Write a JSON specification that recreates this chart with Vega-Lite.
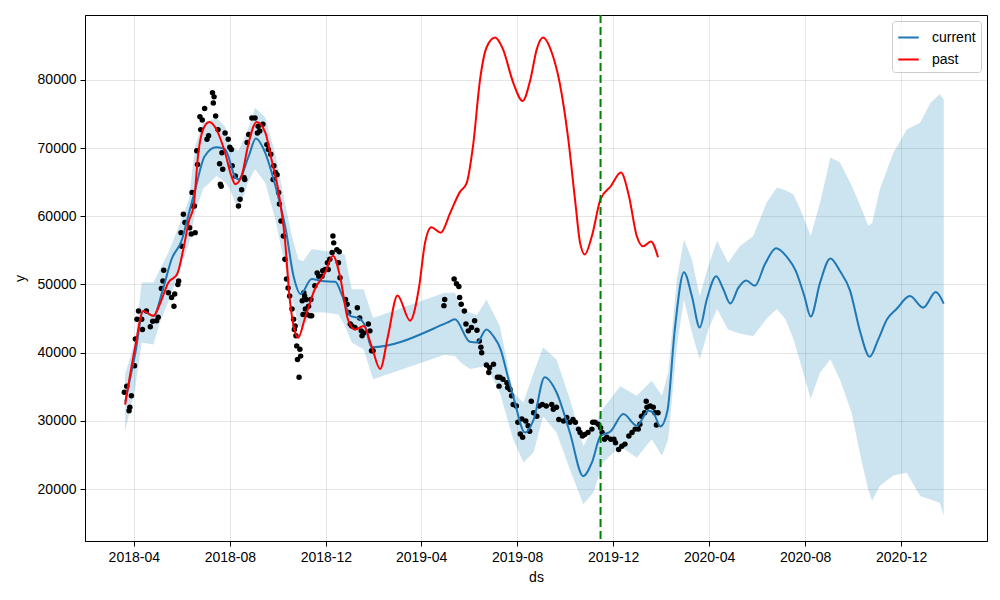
{
  "$schema": "https://vega.github.io/schema/vega-lite/v6.json",
  "description": "Prophet-style forecast: observed points, current fit with interval, past fit and a cutoff line.",
  "width": 902,
  "height": 526,
  "autosize": {"type": "none"},
  "padding": {"left": 85, "top": 15, "right": 13, "bottom": 59},
  "background": "white",
  "config": {
    "view": {"stroke": "black", "strokeWidth": 1},
    "axis": {
      "labelFont": "Liberation Sans",
      "titleFont": "Liberation Sans",
      "labelFontSize": 14,
      "titleFontSize": 14,
      "titleFontWeight": "normal",
      "labelColor": "black",
      "titleColor": "black",
      "domainColor": "black",
      "tickColor": "black",
      "tickSize": 5,
      "gridColor": "#808080",
      "gridOpacity": 0.2,
      "gridWidth": 1
    }
  },
  "datasets": {
    "band": [
      {"ds": "2018-03-21", "lower": 28500, "upper": 36800},
      {"ds": "2018-04-03", "lower": 35000, "upper": 42000},
      {"ds": "2018-04-11", "lower": 41500, "upper": 50300},
      {"ds": "2018-04-26", "lower": 41200, "upper": 50300},
      {"ds": "2018-05-04", "lower": 44400, "upper": 52200},
      {"ds": "2018-05-15", "lower": 47500, "upper": 54700},
      {"ds": "2018-05-28", "lower": 51700, "upper": 58500},
      {"ds": "2018-06-10", "lower": 56000, "upper": 62500},
      {"ds": "2018-06-18", "lower": 60500, "upper": 70300},
      {"ds": "2018-06-28", "lower": 64000, "upper": 73700},
      {"ds": "2018-07-15", "lower": 65900, "upper": 74400},
      {"ds": "2018-07-26", "lower": 65000, "upper": 73200},
      {"ds": "2018-08-01", "lower": 64000, "upper": 70300},
      {"ds": "2018-08-12", "lower": 60800, "upper": 69600},
      {"ds": "2018-08-24", "lower": 64900, "upper": 72700},
      {"ds": "2018-09-02", "lower": 66900, "upper": 75900},
      {"ds": "2018-09-15", "lower": 64900, "upper": 74500},
      {"ds": "2018-09-28", "lower": 59500, "upper": 69000},
      {"ds": "2018-10-10", "lower": 52700, "upper": 62000},
      {"ds": "2018-10-19", "lower": 48300, "upper": 57000},
      {"ds": "2018-10-27", "lower": 43900, "upper": 53700},
      {"ds": "2018-11-02", "lower": 43500, "upper": 53400},
      {"ds": "2018-11-13", "lower": 45900, "upper": 55200},
      {"ds": "2018-11-30", "lower": 45900, "upper": 54900},
      {"ds": "2018-12-17", "lower": 45600, "upper": 54600},
      {"ds": "2018-12-25", "lower": 44000, "upper": 54400},
      {"ds": "2019-01-03", "lower": 41500, "upper": 49300},
      {"ds": "2019-01-18", "lower": 40500, "upper": 49300},
      {"ds": "2019-01-30", "lower": 36100, "upper": 45100},
      {"ds": "2019-05-01", "lower": 39700, "upper": 48800},
      {"ds": "2019-05-14", "lower": 39500, "upper": 48800},
      {"ds": "2019-05-22", "lower": 38500, "upper": 46400},
      {"ds": "2019-06-02", "lower": 37600, "upper": 45900},
      {"ds": "2019-06-11", "lower": 37800, "upper": 45500},
      {"ds": "2019-06-23", "lower": 38100, "upper": 47800},
      {"ds": "2019-07-10", "lower": 34200, "upper": 43900},
      {"ds": "2019-07-27", "lower": 27300, "upper": 34200},
      {"ds": "2019-08-09", "lower": 23900, "upper": 32700},
      {"ds": "2019-08-22", "lower": 25400, "upper": 37100},
      {"ds": "2019-09-03", "lower": 30700, "upper": 40800},
      {"ds": "2019-09-20", "lower": 28300, "upper": 39000},
      {"ds": "2019-10-07", "lower": 22900, "upper": 33200},
      {"ds": "2019-10-24", "lower": 17800, "upper": 26300},
      {"ds": "2019-11-06", "lower": 19500, "upper": 29000},
      {"ds": "2019-11-18", "lower": 23900, "upper": 31800},
      {"ds": "2019-12-10", "lower": 26300, "upper": 35100},
      {"ds": "2019-12-31", "lower": 24600, "upper": 33700},
      {"ds": "2020-01-19", "lower": 27300, "upper": 35900},
      {"ds": "2020-02-01", "lower": 24900, "upper": 33700},
      {"ds": "2020-02-09", "lower": 27300, "upper": 37100},
      {"ds": "2020-02-20", "lower": 41000, "upper": 50800},
      {"ds": "2020-02-29", "lower": 47800, "upper": 56600},
      {"ds": "2020-03-10", "lower": 43000, "upper": 53700},
      {"ds": "2020-03-20", "lower": 39000, "upper": 48300},
      {"ds": "2020-03-31", "lower": 43400, "upper": 52700},
      {"ds": "2020-04-11", "lower": 46400, "upper": 56400},
      {"ds": "2020-04-25", "lower": 43400, "upper": 53200},
      {"ds": "2020-05-10", "lower": 42800, "upper": 55600},
      {"ds": "2020-05-27", "lower": 42400, "upper": 57100},
      {"ds": "2020-06-13", "lower": 45000, "upper": 62000},
      {"ds": "2020-06-26", "lower": 46400, "upper": 64200},
      {"ds": "2020-07-07", "lower": 44900, "upper": 63800},
      {"ds": "2020-07-17", "lower": 42000, "upper": 63200},
      {"ds": "2020-07-26", "lower": 38500, "upper": 61000},
      {"ds": "2020-08-08", "lower": 33200, "upper": 57100},
      {"ds": "2020-08-20", "lower": 37100, "upper": 62000},
      {"ds": "2020-09-02", "lower": 39000, "upper": 68600},
      {"ds": "2020-09-14", "lower": 36100, "upper": 67900},
      {"ds": "2020-09-29", "lower": 31200, "upper": 64500},
      {"ds": "2020-10-12", "lower": 23900, "upper": 61000},
      {"ds": "2020-10-20", "lower": 20000, "upper": 58600},
      {"ds": "2020-10-25", "lower": 18300, "upper": 59000},
      {"ds": "2020-11-04", "lower": 20500, "upper": 64000},
      {"ds": "2020-11-21", "lower": 22000, "upper": 69300},
      {"ds": "2020-12-08", "lower": 22400, "upper": 72700},
      {"ds": "2020-12-25", "lower": 19000, "upper": 73700},
      {"ds": "2021-01-07", "lower": 18500, "upper": 76600},
      {"ds": "2021-01-19", "lower": 18000, "upper": 77900},
      {"ds": "2021-01-24", "lower": 16100, "upper": 77100}
    ],
    "obs": [
      {"ds": "2018-03-20", "y": 34200}, {"ds": "2018-03-23", "y": 35100}, {"ds": "2018-03-29", "y": 33700},
      {"ds": "2018-03-27", "y": 32000}, {"ds": "2018-03-26", "y": 31500}, {"ds": "2018-04-02", "y": 38100},
      {"ds": "2018-04-03", "y": 42000}, {"ds": "2018-04-05", "y": 44900}, {"ds": "2018-04-07", "y": 46100},
      {"ds": "2018-04-11", "y": 44900}, {"ds": "2018-04-12", "y": 43400}, {"ds": "2018-04-17", "y": 46100},
      {"ds": "2018-04-22", "y": 43800}, {"ds": "2018-04-25", "y": 44600}, {"ds": "2018-04-30", "y": 44700},
      {"ds": "2018-05-02", "y": 45200}, {"ds": "2018-05-09", "y": 52100}, {"ds": "2018-05-08", "y": 50500},
      {"ds": "2018-05-06", "y": 49400}, {"ds": "2018-05-15", "y": 48800}, {"ds": "2018-05-19", "y": 48100},
      {"ds": "2018-05-23", "y": 48600}, {"ds": "2018-05-22", "y": 46800}, {"ds": "2018-05-28", "y": 50500},
      {"ds": "2018-05-27", "y": 50000}, {"ds": "2018-06-03", "y": 60300}, {"ds": "2018-06-05", "y": 59100},
      {"ds": "2018-05-31", "y": 57600}, {"ds": "2018-06-11", "y": 58300}, {"ds": "2018-06-13", "y": 57400},
      {"ds": "2018-06-18", "y": 57600}, {"ds": "2018-06-17", "y": 61500}, {"ds": "2018-06-01", "y": 55600},
      {"ds": "2018-07-10", "y": 78100}, {"ds": "2018-07-12", "y": 77500}, {"ds": "2018-07-11", "y": 76600},
      {"ds": "2018-06-30", "y": 75800}, {"ds": "2018-06-24", "y": 74600}, {"ds": "2018-06-27", "y": 74100},
      {"ds": "2018-07-14", "y": 74700}, {"ds": "2018-06-25", "y": 72700}, {"ds": "2018-07-05", "y": 71800},
      {"ds": "2018-07-03", "y": 71300}, {"ds": "2018-07-17", "y": 72700}, {"ds": "2018-07-26", "y": 72200},
      {"ds": "2018-07-30", "y": 71300}, {"ds": "2018-08-01", "y": 70100}, {"ds": "2018-08-03", "y": 69800},
      {"ds": "2018-06-20", "y": 69600}, {"ds": "2018-06-21", "y": 67600}, {"ds": "2018-07-22", "y": 69300},
      {"ds": "2018-07-19", "y": 67700}, {"ds": "2018-07-23", "y": 66900}, {"ds": "2018-07-20", "y": 64700},
      {"ds": "2018-07-21", "y": 64400}, {"ds": "2018-08-04", "y": 67400}, {"ds": "2018-08-08", "y": 65900},
      {"ds": "2018-08-14", "y": 62500}, {"ds": "2018-08-12", "y": 61500}, {"ds": "2018-08-19", "y": 65700},
      {"ds": "2018-08-20", "y": 65400}, {"ds": "2018-08-16", "y": 63900}, {"ds": "2018-06-14", "y": 63500},
      {"ds": "2018-06-15", "y": 61500}, {"ds": "2018-08-29", "y": 74400}, {"ds": "2018-09-02", "y": 74400},
      {"ds": "2018-09-06", "y": 73200}, {"ds": "2018-09-08", "y": 72500}, {"ds": "2018-09-05", "y": 72200},
      {"ds": "2018-08-25", "y": 72000}, {"ds": "2018-08-23", "y": 70800}, {"ds": "2018-09-12", "y": 73500},
      {"ds": "2018-09-17", "y": 70500}, {"ds": "2018-09-19", "y": 69800}, {"ds": "2018-09-22", "y": 69100},
      {"ds": "2018-09-26", "y": 67400}, {"ds": "2018-09-28", "y": 66400}, {"ds": "2018-09-30", "y": 66100},
      {"ds": "2018-09-25", "y": 65400}, {"ds": "2018-10-02", "y": 63500}, {"ds": "2018-10-03", "y": 61800},
      {"ds": "2018-10-05", "y": 59300}, {"ds": "2018-10-08", "y": 57100}, {"ds": "2018-10-10", "y": 53700},
      {"ds": "2018-10-12", "y": 50800}, {"ds": "2018-10-14", "y": 49500}, {"ds": "2018-10-16", "y": 48300},
      {"ds": "2018-10-19", "y": 46400}, {"ds": "2018-10-21", "y": 44900}, {"ds": "2018-10-23", "y": 43900},
      {"ds": "2018-10-22", "y": 43400}, {"ds": "2018-10-24", "y": 42500}, {"ds": "2018-10-25", "y": 41000},
      {"ds": "2018-10-29", "y": 40500}, {"ds": "2018-10-30", "y": 39500}, {"ds": "2018-10-26", "y": 39000},
      {"ds": "2018-10-28", "y": 36400}, {"ds": "2018-11-01", "y": 47600}, {"ds": "2018-11-03", "y": 48800},
      {"ds": "2018-11-05", "y": 46400}, {"ds": "2018-11-07", "y": 45600}, {"ds": "2018-11-09", "y": 46800},
      {"ds": "2018-11-13", "y": 45400}, {"ds": "2018-11-04", "y": 48300}, {"ds": "2018-11-06", "y": 47800},
      {"ds": "2018-11-02", "y": 45600}, {"ds": "2018-11-11", "y": 45400}, {"ds": "2018-11-12", "y": 47800},
      {"ds": "2018-11-17", "y": 49800}, {"ds": "2018-11-20", "y": 51700}, {"ds": "2018-11-22", "y": 51200},
      {"ds": "2018-11-26", "y": 51200}, {"ds": "2018-11-27", "y": 52000}, {"ds": "2018-11-30", "y": 52200},
      {"ds": "2018-12-04", "y": 52200}, {"ds": "2018-12-03", "y": 53200}, {"ds": "2018-12-06", "y": 53700},
      {"ds": "2018-12-10", "y": 57100}, {"ds": "2018-12-11", "y": 56100}, {"ds": "2018-12-09", "y": 54700},
      {"ds": "2018-12-15", "y": 55100}, {"ds": "2018-12-18", "y": 54800}, {"ds": "2018-12-17", "y": 53200},
      {"ds": "2018-12-19", "y": 51000}, {"ds": "2018-12-26", "y": 47800}, {"ds": "2018-12-28", "y": 47100},
      {"ds": "2018-12-30", "y": 45900}, {"ds": "2019-01-01", "y": 44200}, {"ds": "2019-01-03", "y": 43900},
      {"ds": "2019-01-07", "y": 43700}, {"ds": "2019-01-10", "y": 46600}, {"ds": "2019-01-13", "y": 45100},
      {"ds": "2019-01-15", "y": 43200}, {"ds": "2019-01-16", "y": 42500}, {"ds": "2019-01-18", "y": 42900},
      {"ds": "2019-01-24", "y": 44200}, {"ds": "2019-01-26", "y": 43200}, {"ds": "2019-01-28", "y": 40300},
      {"ds": "2019-01-30", "y": 40300},
      {"ds": "2019-05-01", "y": 47800}, {"ds": "2019-04-30", "y": 46900}, {"ds": "2019-05-13", "y": 50800},
      {"ds": "2019-05-16", "y": 50100}, {"ds": "2019-05-19", "y": 49700}, {"ds": "2019-05-20", "y": 48100},
      {"ds": "2019-05-22", "y": 47100}, {"ds": "2019-05-26", "y": 46100}, {"ds": "2019-05-28", "y": 44200},
      {"ds": "2019-05-31", "y": 43200}, {"ds": "2019-06-04", "y": 43700}, {"ds": "2019-06-08", "y": 44700},
      {"ds": "2019-06-11", "y": 43300}, {"ds": "2019-06-14", "y": 41700}, {"ds": "2019-06-16", "y": 40800},
      {"ds": "2019-06-17", "y": 40000}, {"ds": "2019-06-23", "y": 38200}, {"ds": "2019-06-27", "y": 37800},
      {"ds": "2019-06-26", "y": 37100}, {"ds": "2019-07-02", "y": 38300}, {"ds": "2019-07-07", "y": 36400},
      {"ds": "2019-07-10", "y": 36400}, {"ds": "2019-07-14", "y": 36100}, {"ds": "2019-07-09", "y": 35100},
      {"ds": "2019-07-19", "y": 35600}, {"ds": "2019-07-20", "y": 34900}, {"ds": "2019-07-23", "y": 34600},
      {"ds": "2019-07-25", "y": 33700}, {"ds": "2019-07-27", "y": 32400}, {"ds": "2019-07-31", "y": 32200},
      {"ds": "2019-08-02", "y": 29800}, {"ds": "2019-08-07", "y": 30300}, {"ds": "2019-08-05", "y": 28100},
      {"ds": "2019-08-08", "y": 27600}, {"ds": "2019-08-12", "y": 30000}, {"ds": "2019-08-15", "y": 29300},
      {"ds": "2019-08-17", "y": 28500}, {"ds": "2019-08-19", "y": 32900}, {"ds": "2019-08-22", "y": 31200},
      {"ds": "2019-08-26", "y": 30700}, {"ds": "2019-08-29", "y": 32200}, {"ds": "2019-09-02", "y": 32400},
      {"ds": "2019-09-07", "y": 32200}, {"ds": "2019-09-14", "y": 32400}, {"ds": "2019-09-16", "y": 31700},
      {"ds": "2019-09-20", "y": 32000}, {"ds": "2019-09-23", "y": 30200}, {"ds": "2019-09-29", "y": 30000},
      {"ds": "2019-10-03", "y": 30500}, {"ds": "2019-10-07", "y": 29800}, {"ds": "2019-10-11", "y": 30200},
      {"ds": "2019-10-14", "y": 29800}, {"ds": "2019-10-18", "y": 28800}, {"ds": "2019-10-20", "y": 28300},
      {"ds": "2019-10-23", "y": 27800}, {"ds": "2019-10-26", "y": 28000}, {"ds": "2019-10-30", "y": 28300},
      {"ds": "2019-11-04", "y": 28800}, {"ds": "2019-11-05", "y": 29800}, {"ds": "2019-11-08", "y": 29800},
      {"ds": "2019-11-12", "y": 29500}, {"ds": "2019-11-15", "y": 29000}, {"ds": "2019-11-17", "y": 28300},
      {"ds": "2019-11-20", "y": 27300}, {"ds": "2019-11-23", "y": 27600}, {"ds": "2019-11-28", "y": 27300},
      {"ds": "2019-12-02", "y": 27300}, {"ds": "2019-12-04", "y": 26800}, {"ds": "2019-12-08", "y": 25800},
      {"ds": "2019-12-12", "y": 26300}, {"ds": "2019-12-16", "y": 26600}, {"ds": "2019-12-21", "y": 27800},
      {"ds": "2019-12-25", "y": 28300}, {"ds": "2019-12-29", "y": 28800}, {"ds": "2020-01-02", "y": 28800},
      {"ds": "2020-01-04", "y": 29500}, {"ds": "2020-01-06", "y": 30700}, {"ds": "2020-01-10", "y": 31200},
      {"ds": "2020-01-13", "y": 32000}, {"ds": "2020-01-12", "y": 32900}, {"ds": "2020-01-17", "y": 32200},
      {"ds": "2020-01-21", "y": 32000}, {"ds": "2020-01-23", "y": 31200}, {"ds": "2020-01-25", "y": 29400},
      {"ds": "2020-01-27", "y": 31200}
    ],
    "fits": [
      {"ds": "2018-03-21", "y": 32800, "series": "current"},
      {"ds": "2018-04-03", "y": 40000, "series": "current"},
      {"ds": "2018-04-13", "y": 46100, "series": "current"},
      {"ds": "2018-04-26", "y": 45400, "series": "current"},
      {"ds": "2018-05-08", "y": 49300, "series": "current"},
      {"ds": "2018-05-19", "y": 53700, "series": "current"},
      {"ds": "2018-06-01", "y": 56500, "series": "current"},
      {"ds": "2018-06-09", "y": 60000, "series": "current"},
      {"ds": "2018-06-18", "y": 63900, "series": "current"},
      {"ds": "2018-06-30", "y": 68800, "series": "current"},
      {"ds": "2018-07-15", "y": 70100, "series": "current"},
      {"ds": "2018-07-26", "y": 69800, "series": "current"},
      {"ds": "2018-08-08", "y": 65700, "series": "current"},
      {"ds": "2018-08-12", "y": 65400, "series": "current"},
      {"ds": "2018-08-25", "y": 68800, "series": "current"},
      {"ds": "2018-09-03", "y": 71400, "series": "current"},
      {"ds": "2018-09-15", "y": 69300, "series": "current"},
      {"ds": "2018-09-28", "y": 64400, "series": "current"},
      {"ds": "2018-10-11", "y": 58100, "series": "current"},
      {"ds": "2018-10-21", "y": 51200, "series": "current"},
      {"ds": "2018-10-30", "y": 48600, "series": "current"},
      {"ds": "2018-11-13", "y": 50800, "series": "current"},
      {"ds": "2018-11-26", "y": 50500, "series": "current"},
      {"ds": "2018-12-13", "y": 50400, "series": "current"},
      {"ds": "2018-12-22", "y": 48300, "series": "current"},
      {"ds": "2019-01-01", "y": 45400, "series": "current"},
      {"ds": "2019-01-11", "y": 45100, "series": "current"},
      {"ds": "2019-01-20", "y": 43900, "series": "current"},
      {"ds": "2019-01-28", "y": 40800, "series": "current"},
      {"ds": "2019-05-04", "y": 44400, "series": "current"},
      {"ds": "2019-05-14", "y": 44900, "series": "current"},
      {"ds": "2019-06-02", "y": 41600, "series": "current"},
      {"ds": "2019-06-11", "y": 41500, "series": "current"},
      {"ds": "2019-06-23", "y": 43400, "series": "current"},
      {"ds": "2019-07-02", "y": 42400, "series": "current"},
      {"ds": "2019-07-11", "y": 40500, "series": "current"},
      {"ds": "2019-07-20", "y": 36600, "series": "current"},
      {"ds": "2019-07-28", "y": 33200, "series": "current"},
      {"ds": "2019-08-11", "y": 28300, "series": "current"},
      {"ds": "2019-08-22", "y": 30200, "series": "current"},
      {"ds": "2019-09-05", "y": 36400, "series": "current"},
      {"ds": "2019-09-20", "y": 34200, "series": "current"},
      {"ds": "2019-10-07", "y": 28300, "series": "current"},
      {"ds": "2019-10-24", "y": 21900, "series": "current"},
      {"ds": "2019-11-04", "y": 23900, "series": "current"},
      {"ds": "2019-11-15", "y": 27800, "series": "current"},
      {"ds": "2019-11-28", "y": 28500, "series": "current"},
      {"ds": "2019-12-14", "y": 31000, "series": "current"},
      {"ds": "2019-12-31", "y": 29300, "series": "current"},
      {"ds": "2020-01-15", "y": 31500, "series": "current"},
      {"ds": "2020-01-21", "y": 31200, "series": "current"},
      {"ds": "2020-01-30", "y": 29200, "series": "current"},
      {"ds": "2020-02-08", "y": 31500, "series": "current"},
      {"ds": "2020-02-17", "y": 43000, "series": "current"},
      {"ds": "2020-02-29", "y": 51800, "series": "current"},
      {"ds": "2020-03-10", "y": 48300, "series": "current"},
      {"ds": "2020-03-20", "y": 43700, "series": "current"},
      {"ds": "2020-03-29", "y": 47800, "series": "current"},
      {"ds": "2020-04-10", "y": 51200, "series": "current"},
      {"ds": "2020-04-19", "y": 49300, "series": "current"},
      {"ds": "2020-04-28", "y": 47200, "series": "current"},
      {"ds": "2020-05-08", "y": 49500, "series": "current"},
      {"ds": "2020-05-18", "y": 50600, "series": "current"},
      {"ds": "2020-05-29", "y": 49800, "series": "current"},
      {"ds": "2020-06-11", "y": 53000, "series": "current"},
      {"ds": "2020-06-25", "y": 55300, "series": "current"},
      {"ds": "2020-07-09", "y": 54000, "series": "current"},
      {"ds": "2020-07-20", "y": 52000, "series": "current"},
      {"ds": "2020-07-31", "y": 48300, "series": "current"},
      {"ds": "2020-08-08", "y": 45300, "series": "current"},
      {"ds": "2020-08-20", "y": 50300, "series": "current"},
      {"ds": "2020-09-02", "y": 53800, "series": "current"},
      {"ds": "2020-09-14", "y": 52000, "series": "current"},
      {"ds": "2020-09-27", "y": 49100, "series": "current"},
      {"ds": "2020-10-10", "y": 43000, "series": "current"},
      {"ds": "2020-10-22", "y": 39400, "series": "current"},
      {"ds": "2020-11-02", "y": 42000, "series": "current"},
      {"ds": "2020-11-13", "y": 44900, "series": "current"},
      {"ds": "2020-11-25", "y": 46400, "series": "current"},
      {"ds": "2020-12-12", "y": 48300, "series": "current"},
      {"ds": "2020-12-29", "y": 46600, "series": "current"},
      {"ds": "2021-01-14", "y": 48900, "series": "current"},
      {"ds": "2021-01-24", "y": 47200, "series": "current"},
      {"ds": "2018-03-21", "y": 32400, "series": "past"},
      {"ds": "2018-04-03", "y": 41000, "series": "past"},
      {"ds": "2018-04-13", "y": 46100, "series": "past"},
      {"ds": "2018-04-26", "y": 45400, "series": "past"},
      {"ds": "2018-05-04", "y": 47100, "series": "past"},
      {"ds": "2018-05-15", "y": 50300, "series": "past"},
      {"ds": "2018-05-26", "y": 51500, "series": "past"},
      {"ds": "2018-06-03", "y": 55200, "series": "past"},
      {"ds": "2018-06-10", "y": 59300, "series": "past"},
      {"ds": "2018-06-16", "y": 61500, "series": "past"},
      {"ds": "2018-06-22", "y": 69300, "series": "past"},
      {"ds": "2018-06-28", "y": 72700, "series": "past"},
      {"ds": "2018-07-06", "y": 73800, "series": "past"},
      {"ds": "2018-07-15", "y": 72700, "series": "past"},
      {"ds": "2018-07-26", "y": 69300, "series": "past"},
      {"ds": "2018-08-03", "y": 65900, "series": "past"},
      {"ds": "2018-08-08", "y": 64700, "series": "past"},
      {"ds": "2018-08-16", "y": 65900, "series": "past"},
      {"ds": "2018-08-24", "y": 70300, "series": "past"},
      {"ds": "2018-09-04", "y": 73800, "series": "past"},
      {"ds": "2018-09-15", "y": 72300, "series": "past"},
      {"ds": "2018-09-23", "y": 68300, "series": "past"},
      {"ds": "2018-10-02", "y": 63500, "series": "past"},
      {"ds": "2018-10-10", "y": 56600, "series": "past"},
      {"ds": "2018-10-16", "y": 48000, "series": "past"},
      {"ds": "2018-10-23", "y": 43000, "series": "past"},
      {"ds": "2018-10-27", "y": 42200, "series": "past"},
      {"ds": "2018-11-04", "y": 44900, "series": "past"},
      {"ds": "2018-11-17", "y": 49300, "series": "past"},
      {"ds": "2018-11-30", "y": 51700, "series": "past"},
      {"ds": "2018-12-10", "y": 54200, "series": "past"},
      {"ds": "2018-12-19", "y": 51200, "series": "past"},
      {"ds": "2018-12-29", "y": 44900, "series": "past"},
      {"ds": "2019-01-07", "y": 43400, "series": "past"},
      {"ds": "2019-01-18", "y": 43900, "series": "past"},
      {"ds": "2019-01-28", "y": 41000, "series": "past"},
      {"ds": "2019-02-08", "y": 37600, "series": "past"},
      {"ds": "2019-02-18", "y": 42500, "series": "past"},
      {"ds": "2019-03-02", "y": 48400, "series": "past"},
      {"ds": "2019-03-18", "y": 44700, "series": "past"},
      {"ds": "2019-03-29", "y": 49300, "series": "past"},
      {"ds": "2019-04-06", "y": 56100, "series": "past"},
      {"ds": "2019-04-14", "y": 58400, "series": "past"},
      {"ds": "2019-04-26", "y": 57600, "series": "past"},
      {"ds": "2019-05-08", "y": 60500, "series": "past"},
      {"ds": "2019-05-20", "y": 63500, "series": "past"},
      {"ds": "2019-05-29", "y": 64900, "series": "past"},
      {"ds": "2019-06-06", "y": 70300, "series": "past"},
      {"ds": "2019-06-15", "y": 80100, "series": "past"},
      {"ds": "2019-06-23", "y": 84700, "series": "past"},
      {"ds": "2019-07-04", "y": 86200, "series": "past"},
      {"ds": "2019-07-14", "y": 84500, "series": "past"},
      {"ds": "2019-07-27", "y": 79600, "series": "past"},
      {"ds": "2019-08-08", "y": 76900, "series": "past"},
      {"ds": "2019-08-18", "y": 80100, "series": "past"},
      {"ds": "2019-08-26", "y": 84500, "series": "past"},
      {"ds": "2019-09-03", "y": 86200, "series": "past"},
      {"ds": "2019-09-14", "y": 84000, "series": "past"},
      {"ds": "2019-09-24", "y": 79600, "series": "past"},
      {"ds": "2019-10-05", "y": 71300, "series": "past"},
      {"ds": "2019-10-14", "y": 62000, "series": "past"},
      {"ds": "2019-10-20", "y": 56100, "series": "past"},
      {"ds": "2019-10-26", "y": 54400, "series": "past"},
      {"ds": "2019-11-04", "y": 57100, "series": "past"},
      {"ds": "2019-11-15", "y": 62500, "series": "past"},
      {"ds": "2019-11-28", "y": 64400, "series": "past"},
      {"ds": "2019-12-11", "y": 66400, "series": "past"},
      {"ds": "2019-12-21", "y": 63000, "series": "past"},
      {"ds": "2019-12-31", "y": 57100, "series": "past"},
      {"ds": "2020-01-08", "y": 55600, "series": "past"},
      {"ds": "2020-01-18", "y": 56300, "series": "past"},
      {"ds": "2020-01-27", "y": 54000, "series": "past"}
    ],
    "cutoff": [{"ds": "2019-11-15"}]
  },
  "encoding": {
    "x": {
      "field": "ds",
      "type": "temporal",
      "title": "ds",
      "scale": {
        "type": "utc",
        "domain": [
          {"year": 2018, "month": 1, "date": 29, "utc": true},
          {"year": 2021, "month": 3, "date": 20, "utc": true}
        ]
      },
      "axis": {
        "format": "%Y-%m",
        "labelPadding": 4,
        "titlePadding": 6,
        "grid": true,
        "values": [
          {"year": 2018, "month": 4, "date": 1, "utc": true},
          {"year": 2018, "month": 8, "date": 1, "utc": true},
          {"year": 2018, "month": 12, "date": 1, "utc": true},
          {"year": 2019, "month": 4, "date": 1, "utc": true},
          {"year": 2019, "month": 8, "date": 1, "utc": true},
          {"year": 2019, "month": 12, "date": 1, "utc": true},
          {"year": 2020, "month": 4, "date": 1, "utc": true},
          {"year": 2020, "month": 8, "date": 1, "utc": true},
          {"year": 2020, "month": 12, "date": 1, "utc": true}
        ]
      }
    }
  },
  "layer": [
    {
      "data": {"name": "band"},
      "mark": {"type": "area", "color": "#0072B2", "opacity": 0.2},
      "encoding": {
        "y": {
          "field": "lower",
          "type": "quantitative",
          "title": "y",
          "scale": {"domain": [12400, 89500], "nice": false, "zero": false},
          "axis": {"values": [20000, 30000, 40000, 50000, 60000, 70000, 80000], "format": "d", "labelPadding": 4, "titlePadding": 10, "grid": true}
        },
        "y2": {"field": "upper"}
      }
    },
    {
      "data": {"name": "obs"},
      "mark": {"type": "circle", "color": "black", "opacity": 1, "size": 30},
      "encoding": {
        "y": {"field": "y", "type": "quantitative"}
      }
    },
    {
      "data": {"name": "fits"},
      "mark": {"type": "line", "strokeWidth": 2, "interpolate": "monotone"},
      "encoding": {
        "y": {"field": "y", "type": "quantitative"},
        "color": {
          "field": "series",
          "type": "nominal",
          "scale": {"domain": ["current", "past"], "range": ["#1f77b4", "#ff0000"]},
          "legend": {
            "title": null,
            "orient": "top-right",
            "offset": 6,
            "symbolType": "stroke",
            "symbolSize": 420,
            "symbolStrokeWidth": 2,
            "labelFont": "Liberation Sans",
            "labelFontSize": 14,
            "labelColor": "black",
            "labelOffset": 12,
            "rowPadding": 3,
            "padding": 5,
            "fillColor": "rgba(255,255,255,0.8)",
            "strokeColor": "#cccccc",
            "cornerRadius": 3
          }
        }
      }
    },
    {
      "data": {"name": "cutoff"},
      "mark": {"type": "rule", "color": "#008000", "strokeWidth": 2, "strokeDash": [8, 4]},
      "encoding": {}
    }
  ]
}
